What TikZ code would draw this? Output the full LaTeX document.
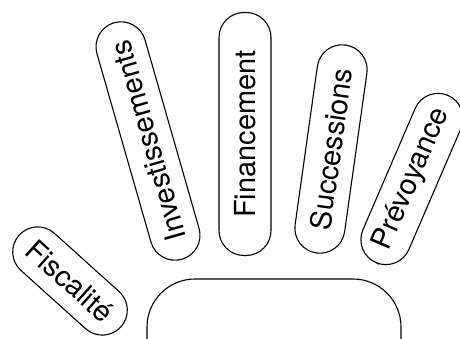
\documentclass[tikz,border=0pt]{standalone}
\usepackage{fontspec}
\newfontfamily\pillfont{TeX Gyre Heros}
\begin{document}
\begin{tikzpicture}[x=1pt,y=-1pt,
  pill/.style={draw, line width=1.1pt, rounded corners=25pt, minimum height=50pt,
    inner sep=0pt, font=\pillfont\fontsize{29}{30}\selectfont},
  palmbox/.style={draw, line width=1.1pt, rounded corners=48pt, inner sep=0pt}]
\useasboundingbox (0,0) rectangle (460,339);
\clip (0,0) rectangle (460,339);
\node[pill, minimum width=137pt, rotate=-42] (fis) at (70,281) {Fiscalité};
\node[pill, minimum width=246pt, rotate=106] (inv) at (148,141) {Investissements};
\node[pill, minimum width=243pt, minimum height=52pt, rotate=90] (fin) at (245,134) {Financement};
\node[pill, minimum width=210pt, rotate=82] (suc) at (331,149) {Successions};
\node[pill, minimum width=182pt, rotate=66.7] (pre) at (412,179) {Prévoyance};
\node[palmbox, minimum width=254pt, minimum height=160pt] (palm) at (274,359) {};
\end{tikzpicture}
\end{document}
